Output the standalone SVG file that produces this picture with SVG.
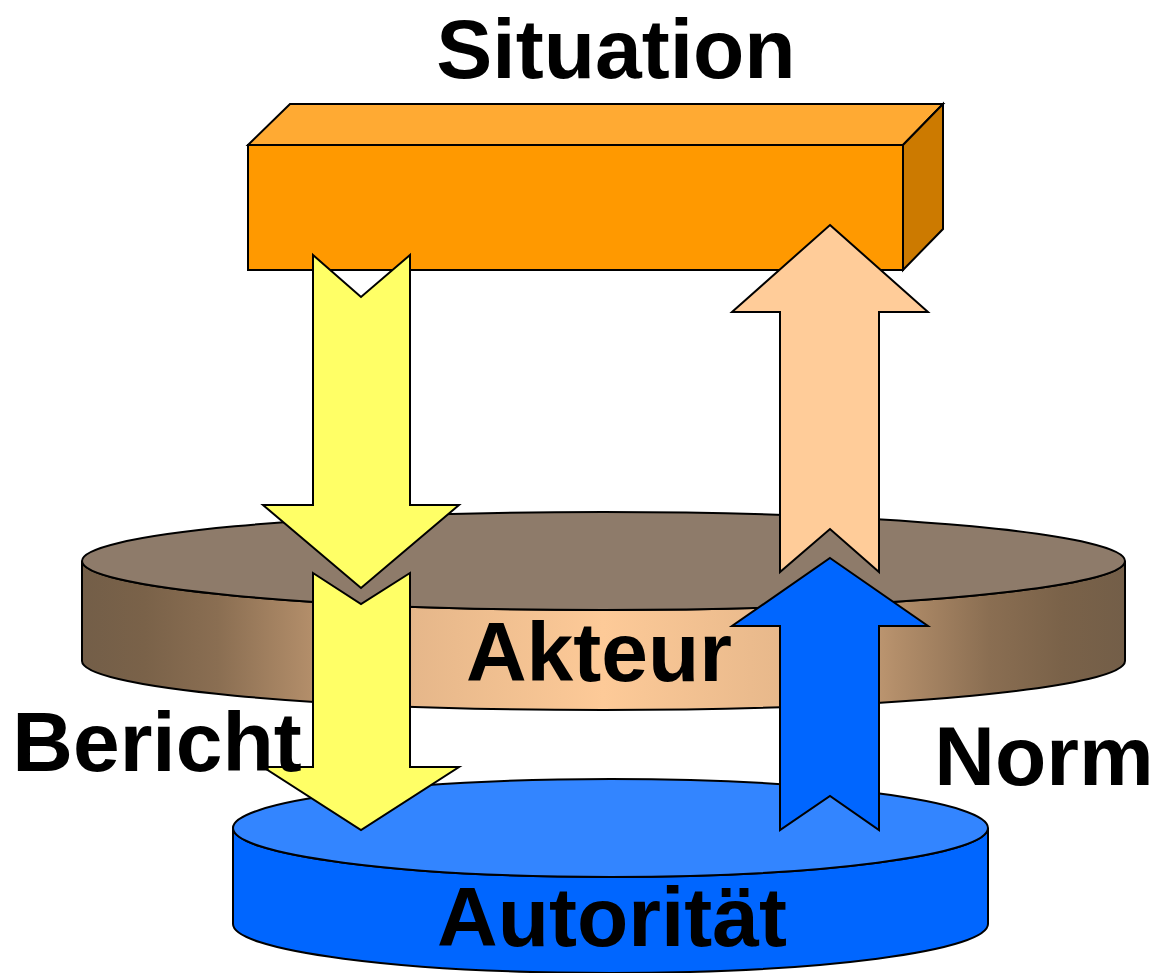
<svg xmlns="http://www.w3.org/2000/svg" width="1160" height="973" viewBox="0 0 1160 973">
  <defs>
    <linearGradient id="akteurSide" gradientUnits="userSpaceOnUse" x1="82" y1="0" x2="1125" y2="0">
      <stop offset="0" stop-color="#735e48"/>
      <stop offset="0.06" stop-color="#7a6249"/>
      <stop offset="0.13" stop-color="#8a6e52"/>
      <stop offset="0.22" stop-color="#b38e6a"/>
      <stop offset="0.32" stop-color="#e6b78a"/>
      <stop offset="0.5" stop-color="#fdca98"/>
      <stop offset="0.68" stop-color="#e6b78a"/>
      <stop offset="0.78" stop-color="#b38e6a"/>
      <stop offset="0.87" stop-color="#8a6e52"/>
      <stop offset="0.94" stop-color="#7a6249"/>
      <stop offset="1" stop-color="#735e48"/>
    </linearGradient>
  </defs>
  <style>
    .edge { stroke: #000; stroke-width: 2; stroke-linejoin: miter; }
    .lbl { font-family: "Liberation Sans", Arial, sans-serif; font-weight: bold; font-size: 84px; fill: #000; text-anchor: middle; }
  </style>
  <rect width="1160" height="973" fill="#fff"/>

  <g id="situation">
    <polygon class="edge" fill="#ffaa33" points="248,145 290,104 943,104 903,145"/>
    <polygon class="edge" fill="#cc7a00" points="903,145 943,104 943,229 903,270"/>
    <rect class="edge" fill="#ff9900" x="248" y="145" width="655" height="125"/>
    <text class="lbl" x="616" y="78">Situation</text>
  </g>

  <g id="akteur">
    <path class="edge" fill="url(#akteurSide)" d="M82,561 L82,661 A521.5,49 0 0 0 1125,661 L1125,561 A521.5,49 0 0 1 82,561 Z"/>
    <ellipse class="edge" fill="#8e7b6a" cx="603.5" cy="561" rx="521.5" ry="49"/>
  </g>

  <g id="autoritaet">
    <path class="edge" fill="#0066ff" d="M233,828 L233,924 A377.5,49 0 0 0 988,924 L988,828 A377.5,49 0 0 1 233,828 Z"/>
    <ellipse class="edge" fill="#3385ff" cx="610.5" cy="828" rx="377.5" ry="49"/>
  </g>

  <g id="connectors">
    <polygon class="edge" fill="#ffff66" points="313,255 361,297 410,255 410,505 459,505 361,588 263,505 313,505"/>
    <polygon class="edge" fill="#ffcc99" points="830,225 928,312 879,312 879,572 830,529 780,572 780,312 732,312"/>
    <polygon class="edge" fill="#ffff66" points="313,573 361,604 410,573 410,767 459,767 361,830 263,767 313,767"/>
    <polygon class="edge" fill="#0066ff" points="830,558 928,626 879,626 879,830 830,796 780,830 780,626 732,626"/>
  </g>

  <g id="labels">
    <text class="lbl" x="599" y="681">Akteur</text>
    <text class="lbl" x="612" y="946">Autorität</text>
    <text class="lbl" x="157" y="771">Bericht</text>
    <text class="lbl" x="1044" y="785">Norm</text>
  </g>
</svg>
